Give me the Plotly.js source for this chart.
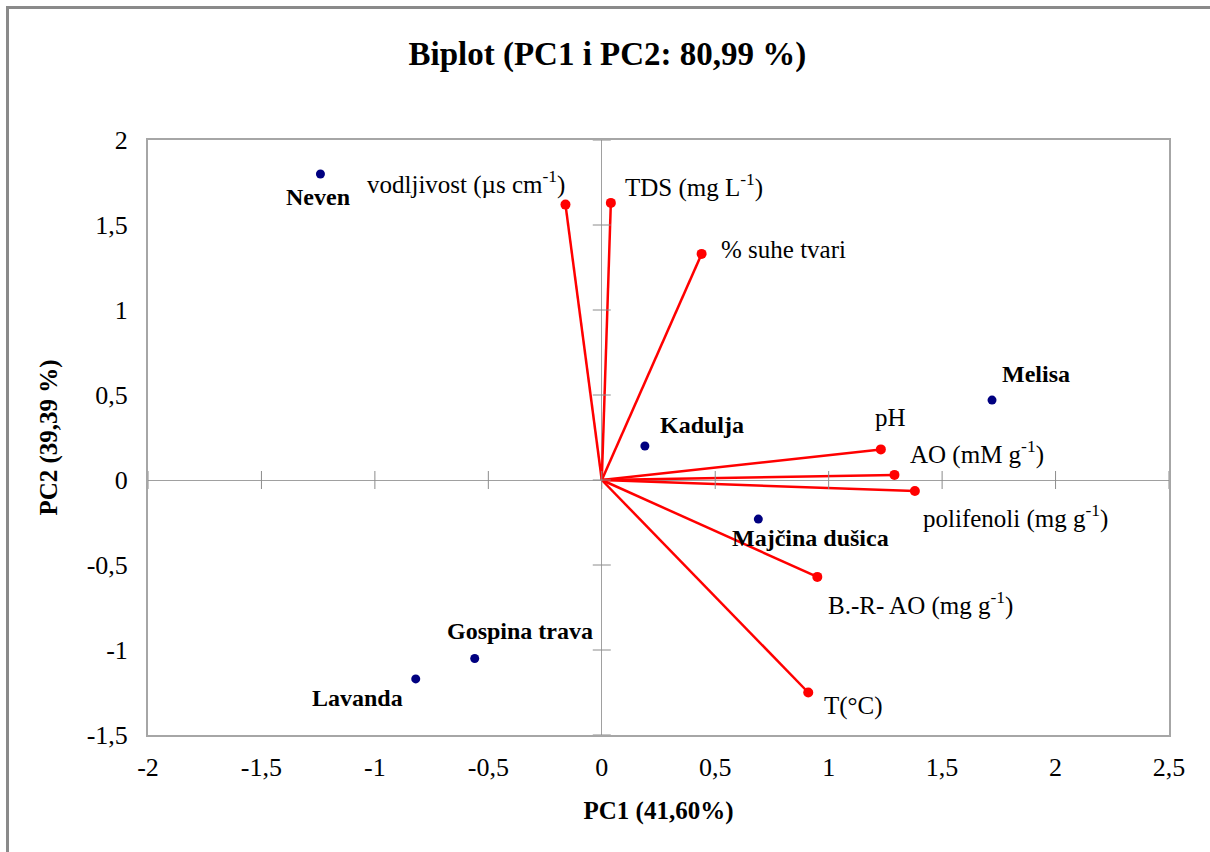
<!DOCTYPE html>
<html>
<head>
<meta charset="utf-8">
<script src="https://cdn.plot.ly/plotly-3.0.1.min.js"></script>
<style>
  html, body { margin: 0; padding: 0; background: #ffffff; }
  #wrap { position: relative; width: 1210px; height: 852px; overflow: hidden; }
  #chart { position: absolute; left: 0; top: 0; width: 1210px; height: 852px; }
  #frame { position: absolute; left: 6px; top: 6px; width: 1400px; height: 1000px;
           border-left: 3px solid #8a8a8a; border-top: 3px solid #8a8a8a; pointer-events: none; }
</style>
</head>
<body>
<div id="wrap">
  <div id="chart"></div>
  <div id="frame"></div>
</div>
<script>
// Observations (scores)
const obsNames = ['Neven', 'Kadulja', 'Melisa', 'Majčina dušica', 'Gospina trava', 'Lavanda'];
const obsPC1   = [-1.24, 0.19, 1.72, 0.69, -0.56, -0.82];
const obsPC2   = [1.80, 0.20, 0.47, -0.23, -1.05, -1.17];

// Variables (loadings)
const varNames = ['vodljivost (µs cm<sup>-1</sup>)', 'TDS (mg L<sup>-1</sup>)', '% suhe tvari', 'pH',
                  'AO (mM g<sup>-1</sup>)', 'polifenoli (mg g<sup>-1</sup>)', 'B.-R- AO (mg g<sup>-1</sup>)', 'T(°C)'];
const varPC1   = [-0.16, 0.04, 0.44, 1.23, 1.29, 1.38, 0.95, 0.91];
const varPC2   = [1.62, 1.63, 1.33, 0.18, 0.03, -0.065, -0.57, -1.25];

// Axis ticks
const xTicks = [-2, -1.5, -1, -0.5, 0, 0.5, 1, 1.5, 2, 2.5];
const xTickText = ['-2', '-1,5', '-1', '-0,5', '0', '0,5', '1', '1,5', '2', '2,5'];
const yTicks = [-1.5, -1, -0.5, 0, 0.5, 1, 1.5, 2];
const yTickText = ['-1,5', '-1', '-0,5', '0', '0,5', '1', '1,5', '2'];

// label placement (pixel offsets, styling only)
const obsLabelStyle = [
  {xa: 'right', dx: 32, dy: -23},
  {xa: 'left',  dx: 13, dy: 21},
  {xa: 'left',  dx: 8,  dy: 26},
  {xa: 'left',  dx: -28, dy: -19},
  {xa: 'left',  dx: -30, dy: 28},
  {xa: 'right', dx: -11, dy: -19}
];
const varLabelStyle = [
  {xa: 'right', dx: 2,  dy: 22},
  {xa: 'left',  dx: 12, dy: 17},
  {xa: 'left',  dx: 17, dy: 4},
  {xa: 'left',  dx: -8, dy: 32},
  {xa: 'left',  dx: 14, dy: 22},
  {xa: 'left',  dx: 6,  dy: -25},
  {xa: 'left',  dx: 9,  dy: -27},
  {xa: 'left',  dx: 14, dy: -13}
];

const FONT = 'Liberation Serif';

// vector lines from origin
const lx = [], ly = [];
varPC1.forEach((v, i) => { lx.push(0, v, null); ly.push(0, varPC2[i], null); });

const traces = [
  {
    type: 'scatter', mode: 'lines', x: lx, y: ly,
    line: {color: '#ff0000', width: 2.5}, hoverinfo: 'skip', showlegend: false
  },
  {
    type: 'scatter', mode: 'markers', x: varPC1, y: varPC2,
    marker: {color: '#ff0000', size: 10}, showlegend: false
  },
  {
    type: 'scatter', mode: 'markers', x: obsPC1, y: obsPC2,
    marker: {color: '#000080', size: 9}, showlegend: false
  }
];

const annotations = [];
obsNames.forEach((n, i) => {
  const s = obsLabelStyle[i];
  annotations.push({
    x: obsPC1[i], y: obsPC2[i], xref: 'x', yref: 'y', text: '<b>' + n + '</b>',
    showarrow: false, xanchor: s.xa, yanchor: 'middle', xshift: s.dx, yshift: s.dy,
    font: {family: FONT, size: 24, color: '#000000'}
  });
});
varNames.forEach((n, i) => {
  const s = varLabelStyle[i];
  annotations.push({
    x: varPC1[i], y: varPC2[i], xref: 'x', yref: 'y', text: n,
    showarrow: false, xanchor: s.xa, yanchor: 'middle', xshift: s.dx, yshift: s.dy,
    font: {family: FONT, size: 25, color: '#000000'}
  });
});

// cross tick marks on the zero lines
const shapes = [];
yTicks.forEach(t => {
  shapes.push({type: 'line', xref: 'x', yref: 'y', xsizemode: 'pixel', xanchor: 0,
    x0: -9, x1: 9, y0: t, y1: t, line: {color: '#8c8c8c', width: 1}});
});
xTicks.forEach(t => {
  shapes.push({type: 'line', xref: 'x', yref: 'y', ysizemode: 'pixel', yanchor: 0,
    y0: -9, y1: 9, x0: t, x1: t, line: {color: '#8c8c8c', width: 1}});
});

const layout = {
  width: 1210, height: 852,
  margin: {l: 148, r: 41, t: 140, b: 117},
  paper_bgcolor: '#ffffff', plot_bgcolor: '#ffffff',
  separators: ', ',
  font: {family: FONT, color: '#000000'},
  title: {
    text: '<b>Biplot (PC1 i PC2: 80,99 %)</b>',
    font: {family: FONT, size: 33, color: '#000000'},
    x: 0.502, xanchor: 'center', y: 1 - 53 / 852, yanchor: 'middle', yref: 'container'
  },
  xaxis: {
    range: [-2, 2.5], tickvals: xTicks, ticktext: xTickText, ticks: '', showgrid: false,
    zeroline: true, zerolinecolor: '#a0a0a0', zerolinewidth: 1,
    showline: true, mirror: true, linecolor: '#a6a6a6', linewidth: 2,
    tickfont: {family: FONT, size: 26, color: '#000000'},
    ticklabelstandoff: 8,
    title: {text: '<b>PC1 (41,60%)</b>', font: {family: FONT, size: 25, color: '#000000'}, standoff: 20}
  },
  yaxis: {
    range: [-1.5, 2], tickvals: yTicks, ticktext: yTickText, ticks: '', showgrid: false,
    zeroline: true, zerolinecolor: '#a0a0a0', zerolinewidth: 1,
    showline: true, mirror: true, linecolor: '#a6a6a6', linewidth: 2,
    tickfont: {family: FONT, size: 26, color: '#000000'},
    ticklabelstandoff: 13,
    title: {text: '<b>PC2 (39,39 %)</b>', font: {family: FONT, size: 25, color: '#000000'}, standoff: 22}
  },
  annotations: annotations,
  shapes: shapes,
  showlegend: false
};

Plotly.newPlot('chart', traces, layout, {displayModeBar: false, staticPlot: true});
</script>
</body>
</html>
